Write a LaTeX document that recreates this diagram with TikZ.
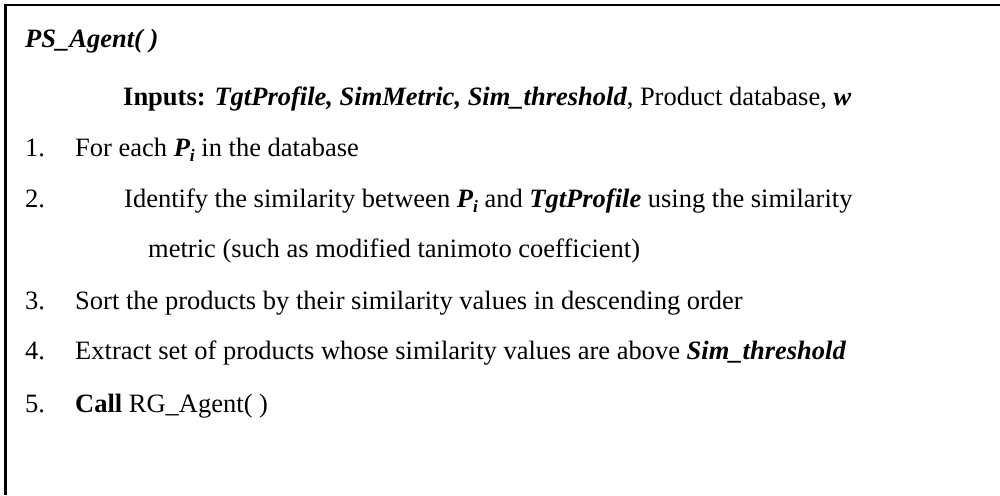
\documentclass[tikz,border=0pt]{standalone}
\usepackage{fontspec}
\setmainfont{Liberation Serif}
\newcommand\bi[1]{{\bfseries\itshape #1}}
\newcommand\Psub{\bi{P}\raisebox{-0.22em}{\fontsize{17.5pt}{20pt}\selectfont\bi{i}}}
\begin{document}
\begin{tikzpicture}[x=1pt,y=-1pt,
  txt/.style={anchor=base west,inner sep=0pt,font=\fontsize{26.5pt}{30pt}\selectfont},
  frame/.style={line width=2.6pt,line join=miter}]
\useasboundingbox (0,0) rectangle (1000,495);
% open frame: left and top edges only
\coordinate (fbot) at (5.5,495);
\coordinate (fcorner) at (5.5,5);
\coordinate (fright) at (1000,5);
\draw[frame] (fbot) -- (fcorner) -- (fright);
% heading and inputs
\node[txt] (title) at (25,48) {\bi{PS\_Agent( )}};
\node[txt] (inputs) at (123,105) {\textbf{Inputs:} \bi{TgtProfile, SimMetric, Sim\_threshold}, Product database, \bi{w}};
% numbered steps
\node[txt] (n1) at (25,156) {1.};
\node[txt] (s1) at (75,156) {For each \Psub{} in the database};
\node[txt] (n2) at (25,207) {2.};
\node[txt] (s2) at (124,207) {Identify the similarity between \Psub{} and \bi{TgtProfile} using the similarity};
\node[txt] (s2b) at (148,257) {metric (such as modified tanimoto coefficient)};
\node[txt] (n3) at (25,309) {3.};
\node[txt] (s3) at (75,309) {Sort the products by their similarity values in descending order};
\node[txt] (n4) at (25,359) {4.};
\node[txt] (s4) at (75,359) {Extract set of products whose similarity values are above \bi{Sim\_threshold}};
\node[txt] (n5) at (25,412) {5.};
\node[txt] (s5) at (75,412) {\textbf{Call} RG\_Agent( )};
\end{tikzpicture}
\end{document}
